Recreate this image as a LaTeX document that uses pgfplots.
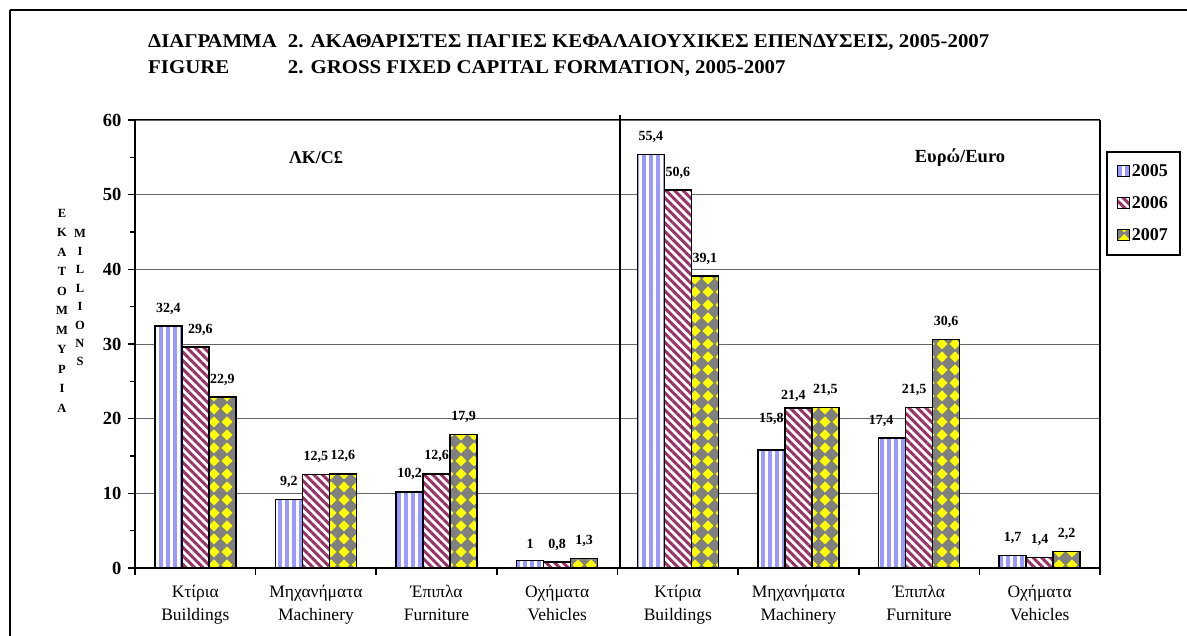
\documentclass[border=0pt]{standalone}
\usepackage{fontspec}
\setmainfont{Liberation Serif}
\newfontfamily\titlefont[FakeStretch=1.07]{Liberation Serif}
\usepackage{pgfplots}
\pgfplotsset{compat=1.18}
\usepackage{pgfplotstable}
\usetikzlibrary{patterns,patterns.meta}

\definecolor{stripeblue}{RGB}{153,153,255}
\definecolor{maroonc}{RGB}{153,51,102}
\definecolor{grayc}{RGB}{128,128,128}
\definecolor{yellowc}{RGB}{255,255,0}

\pgfdeclarepattern{
  name=diamonds,
  type=uncolored,
  bottom left={\pgfpoint{0pt}{0pt}},
  top right={\pgfpoint{13pt}{13pt}},
  tile size={\pgfpoint{13pt}{13pt}},
  code={
    \pgfpathmoveto{\pgfpoint{6.5pt}{0.6pt}}
    \pgfpathlineto{\pgfpoint{12.4pt}{6.5pt}}
    \pgfpathlineto{\pgfpoint{6.5pt}{12.4pt}}
    \pgfpathlineto{\pgfpoint{0.6pt}{6.5pt}}
    \pgfpathclose
    \pgfusepath{fill}
  }
}

\pgfplotstableread{
x y
0.5 32.4
1.5 9.2
2.5 10.2
3.5 1
4.5 55.4
5.5 15.8
6.5 17.4
7.5 1.7
}\dataA
\pgfplotstableread{
x y
0.5 29.6
1.5 12.5
2.5 12.6
3.5 0.8
4.5 50.6
5.5 21.4
6.5 21.5
7.5 1.4
}\dataB
\pgfplotstableread{
x y
0.5 22.9
1.5 12.6
2.5 17.9
3.5 1.3
4.5 39.1
5.5 21.5
6.5 30.6
7.5 2.2
}\dataC

\begin{document}
\begin{tikzpicture}[x=1pt,y=1pt]
\useasboundingbox (0,0) rectangle (1187,636);
% outer frame
\draw[line width=2.5pt] (10,626) -- (1260,626);
\draw[line width=2.5pt] (10,626) -- (10,-40);
% title
\node[anchor=base west, font=\titlefont\bfseries\fontsize{19.5}{26}\selectfont, inner sep=0pt] at (148,588) {%
\begin{tabular}[t]{@{}l@{\hspace{11pt}}l@{}}
ΔΙΑΓΡΑΜΜΑ & 2. ΑΚΑΘΑΡΙΣΤΕΣ ΠΑΓΙΕΣ ΚΕΦΑΛΑΙΟΥΧΙΚΕΣ ΕΠΕΝΔΥΣΕΙΣ, 2005-2007\\
FIGURE & 2. GROSS FIXED CAPITAL FORMATION, 2005-2007
\end{tabular}};
% y label columns
\node[align=center, font=\bfseries\fontsize{12.5}{19.5}\selectfont, inner sep=0pt] at (62,325.5) {Ε\\Κ\\Α\\Τ\\Ο\\Μ\\Μ\\Υ\\Ρ\\Ι\\Α};
\node[align=center, font=\bfseries\fontsize{12.5}{18.4}\selectfont, inner sep=0pt] at (80,338.5) {M\\I\\L\\L\\I\\O\\N\\S};
% panel titles
\node[font=\bfseries\fontsize{18}{18}\selectfont] at (316,478) {ΛΚ/C£};
\node[font=\bfseries\fontsize{18.5}{18.5}\selectfont] at (960,478) {Ευρώ/Euro};

\begin{axis}[
  at={(135pt,68pt)}, anchor=south west,
  scale only axis, width=965pt, height=448pt,
  xmin=0, xmax=8, ymin=0, ymax=60,
  clip=false,
  ytick={0,10,...,60}, minor y tick num=1,
  xtick={0,...,8}, xticklabels={},
  extra x ticks={0.5,1.5,...,7.5},
  extra x tick labels={{Κτίρια\\Buildings},{Μηχανήματα\\Machinery},{Έπιπλα\\Furniture},{Οχήματα\\Vehicles},{Κτίρια\\Buildings},{Μηχανήματα\\Machinery},{Έπιπλα\\Furniture},{Οχήματα\\Vehicles}},
  extra x tick style={major tick length=0pt, grid=none},
  xticklabel style={align=center, font=\fontsize{17.5}{23}\selectfont, yshift=-14pt},
  yticklabel style={font=\bfseries\fontsize{18.5}{18.5}\selectfont, xshift=-3pt},
  /pgf/number format/.cd, use comma, fixed, precision=1, assume math mode=true,
  /pgfplots/.cd,
  ymajorgrids, grid style={black!60, line width=0.9pt},
  tick align=outside, tick pos=left,
  major tick length=7pt, minor tick length=5pt,
  every tick/.style={black, line width=1.6pt},
  axis line style={black, line width=1pt},
  ybar, bar width=0.224,
  nodes near coords,
  every node near coord/.append style={font=\bfseries\fontsize{14}{14}\selectfont, inner sep=2pt, yshift=9pt},
  legend style={at={(axis description cs:1.006,0.931)}, anchor=north west, draw=black, line width=1.8pt, font=\bfseries\fontsize{18}{18}\selectfont, row sep=14.5pt, inner xsep=10pt, inner ysep=11pt},
  legend cell align=left,
  legend image code/.code={\draw[#1, line width=1.2pt] (0pt,-5pt) rectangle (12pt,6pt);},
]
\addplot[draw=black, line width=1.5pt, fill=white, postaction={pattern={Lines[angle=90, distance=7pt, line width=3.3pt]}, pattern color=stripeblue}, bar shift=-0.224,
  coordinate style/.condition={\coordindex==5}{yshift=14pt},
  coordinate style/.condition={\coordindex==6}{xshift=-11pt}] table[x=x,y=y] {\dataA};
\addplot[draw=black, line width=1.5pt, fill=white, postaction={pattern={Lines[angle=-45, distance=6pt, line width=3pt]}, pattern color=maroonc}, bar shift=0,
  coordinate style/.condition={\coordindex==0}{xshift=5pt},
  coordinate style/.condition={\coordindex==5}{xshift=-5pt, yshift=-5pt},
  coordinate style/.condition={\coordindex==6}{xshift=-5pt}] table[x=x,y=y] {\dataB};
\addplot[draw=black, line width=1.5pt, fill=grayc, postaction={pattern=diamonds, pattern color=yellowc}, bar shift=0.224] table[x=x,y=y] {\dataC};
\legend{2005,2006,2007}
\draw[line width=2pt] (rel axis cs:0,0) -- (rel axis cs:0,1);
\draw[line width=2pt] (rel axis cs:0,0) -- (rel axis cs:1,0);
\draw[line width=2pt] (rel axis cs:1,0) -- (rel axis cs:1,1);
\draw[line width=2.8pt] (axis cs:4.02,0) -- (axis cs:4.02,60.7);
\end{axis}
\end{tikzpicture}
\end{document}
